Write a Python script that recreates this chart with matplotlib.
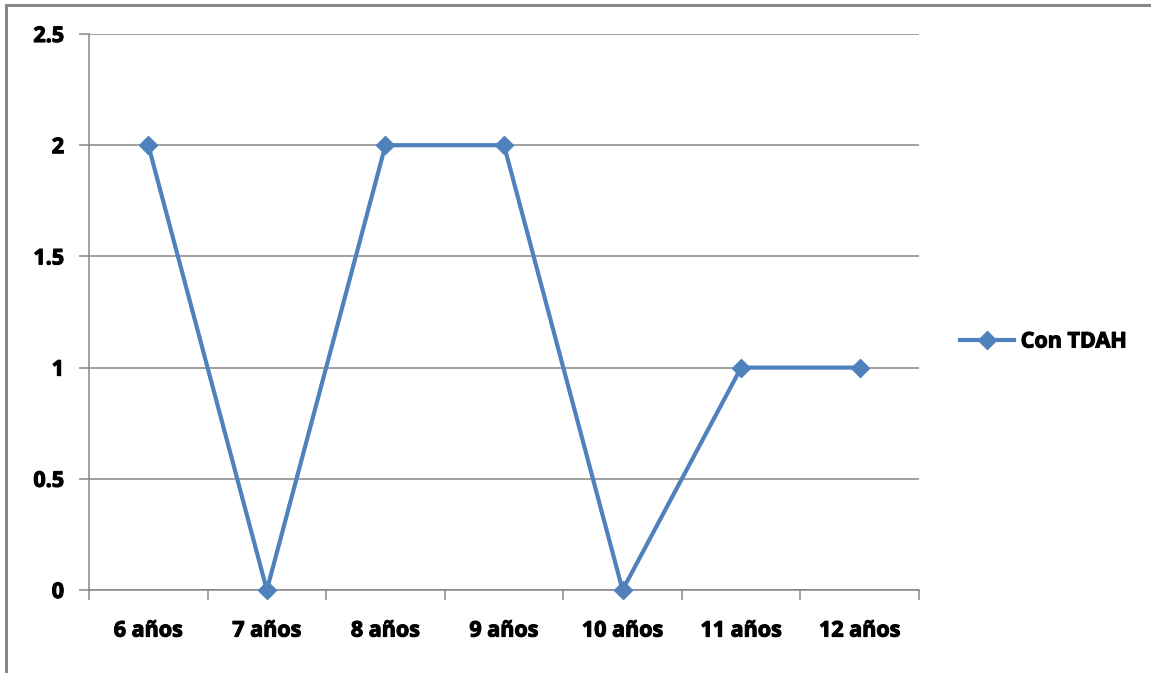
import matplotlib
matplotlib.use("Agg")
import matplotlib.pyplot as plt
from matplotlib.patches import Rectangle
from matplotlib.ticker import FixedLocator, NullFormatter
import matplotlib.patheffects as pe

categories = ["6 años", "7 años", "8 años", "9 años", "10 años", "11 años", "12 años"]
values = [2, 0, 2, 2, 0, 1, 1]
series_name = "Con TDAH"
y_ticks = [0, 0.5, 1, 1.5, 2, 2.5]
y_labels = ["0", "0.5", "1", "1.5", "2", "2.5"]

W, H = 1151, 673
fig = plt.figure(figsize=(W / 100, H / 100), dpi=100)
plt.rcParams["font.family"] = ["Open Sans", "DejaVu Sans"]
FS = 15.5
heavy = [pe.withStroke(linewidth=0.8, foreground="black")]

# outer chart border (runs off the right and bottom edges)
fig.patches.append(Rectangle((6 / W, -0.1), 1.2, 1 - 5 / H + 0.1, transform=fig.transFigure,
                             fill=False, edgecolor="#888888", linewidth=2.2))

ax = fig.add_axes([89 / W, 1 - 590 / H, (919 - 89) / W, (590 - 34) / H])
grid_c = "#868686"
x = list(range(len(categories)))
ax.plot(x, values, color="#4F81BD", linewidth=3.0, marker="D", markersize=9.5,
        markerfacecolor="#4F81BD", markeredgecolor="#4F81BD", label=series_name,
        clip_on=False, zorder=3)

ax.set_xlim(-0.5, len(categories) - 0.5)
ax.set_ylim(0, 2.5)
ax.set_yticks(y_ticks)
ax.set_yticklabels(y_labels)
ax.yaxis.grid(True, color=grid_c, linewidth=1.1)
ax.set_axisbelow(True)

ax.xaxis.set_major_locator(FixedLocator([i - 0.5 for i in range(len(categories) + 1)]))
ax.xaxis.set_major_formatter(NullFormatter())
ax.xaxis.set_minor_locator(FixedLocator(x))
ax.set_xticklabels(categories, minor=True)
ax.tick_params(axis="x", which="major", length=7, color=grid_c, width=1.1, direction="out")
ax.tick_params(axis="x", which="minor", length=0, pad=22)
ax.tick_params(axis="y", length=7, color=grid_c, width=1.1, direction="out", pad=11)
for lab in ax.get_xticklabels(minor=True) + ax.get_yticklabels():
    lab.set_fontweight("bold")
    lab.set_fontsize(FS)
    lab.set_path_effects(heavy)

for s in ["top", "right"]:
    ax.spines[s].set_visible(False)
for s in ["left", "bottom"]:
    ax.spines[s].set_color(grid_c)
    ax.spines[s].set_linewidth(1.1)

leg = fig.legend(loc="center left", bbox_to_anchor=(960 / W, 1 - 342 / H), frameon=False,
                 borderpad=0, borderaxespad=0,
                 handlelength=2.5, handletextpad=0.32, prop={"weight": "bold", "size": FS})
for t in leg.get_texts():
    t.set_path_effects(heavy)

fig.savefig("out.png", dpi=100)
